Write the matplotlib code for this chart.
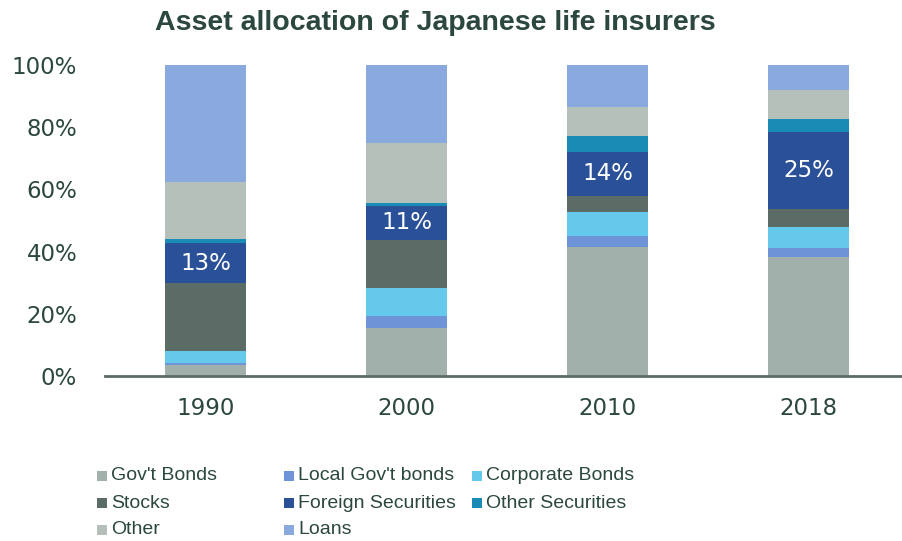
import matplotlib
matplotlib.use("Agg")
import matplotlib.pyplot as plt
from matplotlib.patches import Rectangle
import numpy as np

# Asset allocation data (% of total assets)
years = ["1990", "2000", "2010", "2018"]
categories = ["Gov't Bonds", "Local Gov't bonds", "Corporate Bonds", "Stocks",
              "Foreign Securities", "Other Securities", "Other", "Loans"]
govt_bonds = [3.6, 15.5, 41.6, 38.4]
local_govt_bonds = [0.5, 3.9, 3.5, 2.6]
corporate_bonds = [3.9, 9.0, 7.7, 7.0]
stocks = [21.8, 15.3, 5.2, 5.6]
foreign_securities = [13.0, 11.0, 14.0, 25.0]
other_securities = [1.2, 1.0, 5.2, 3.9]
other = [18.3, 19.3, 9.2, 9.5]
loans = [37.7, 25.0, 13.6, 8.0]

series = [govt_bonds, local_govt_bonds, corporate_bonds, stocks,
          foreign_securities, other_securities, other, loans]
colors = ["#a2b0ac", "#6e93d6", "#64c9ea", "#5b6b66",
          "#2a5198", "#1a8bb5", "#b5c0bb", "#8aa9df"]

text_color = "#2b4740"
tick_font = "DejaVu Sans"
title_font = "Liberation Sans"

fig = plt.figure(figsize=(9.03, 5.41), dpi=100)
ax = fig.add_axes([105 / 903, 1 - 376 / 541, 1 - 105 / 903, (376 - 65) / 541])

x = np.arange(len(years))
bottom = np.zeros(len(years))
for vals, col, name in zip(series, colors, categories):
    vals = np.array(vals)
    ax.bar(x, vals, width=0.4, bottom=bottom, color=col, label=name,
           edgecolor="none", zorder=2)
    if name == "Foreign Securities":
        for xi, b, v in zip(x, bottom, vals):
            ax.text(xi, b + v / 2, f"{v:.0f}%", ha="center", va="center",
                    color="white", fontsize=16.5, family=tick_font, zorder=3)
    bottom += vals

ax.set_xlim(-0.5, 3.47)
ax.set_ylim(0, 100)
ax.set_xticks(x)
ax.set_xticklabels(years)
ax.set_yticks(np.arange(0, 101, 20))
ax.set_yticklabels([f"{v}%" for v in range(0, 101, 20)])
ax.tick_params(axis="both", length=0, labelsize=16.5, labelcolor=text_color)
ax.tick_params(axis="x", pad=15)
ax.tick_params(axis="y", pad=20)
for lab in ax.get_xticklabels() + ax.get_yticklabels():
    lab.set_family(tick_font)
for s in ["top", "right", "left"]:
    ax.spines[s].set_visible(False)
ax.spines["bottom"].set_color("#5b6b66")
ax.spines["bottom"].set_linewidth(2)
ax.spines["bottom"].set_zorder(4)

fig.text(435 / 903, 1 - 23 / 541, "Asset allocation of Japanese life insurers",
         ha="center", va="center", fontsize=20.5, fontweight="bold",
         color=text_color, family=title_font)

# Legend laid out in three columns, filled row by row
col_x = [97, 284, 472]
row_y = [476, 503, 530]
W, H = 903, 541
for i, (name, col) in enumerate(zip(categories, colors)):
    r, c = divmod(i, 3)
    px, py = col_x[c], row_y[r]
    fig.add_artist(Rectangle((px / W, 1 - (py + 5) / H), 10 / W, 10 / H,
                             transform=fig.transFigure, facecolor=col,
                             edgecolor="none"))
    fig.text((px + 14) / W, 1 - py / H, name, ha="left", va="center",
             fontsize=14, color=text_color, family=title_font)

fig.savefig("out.png", dpi=100)
